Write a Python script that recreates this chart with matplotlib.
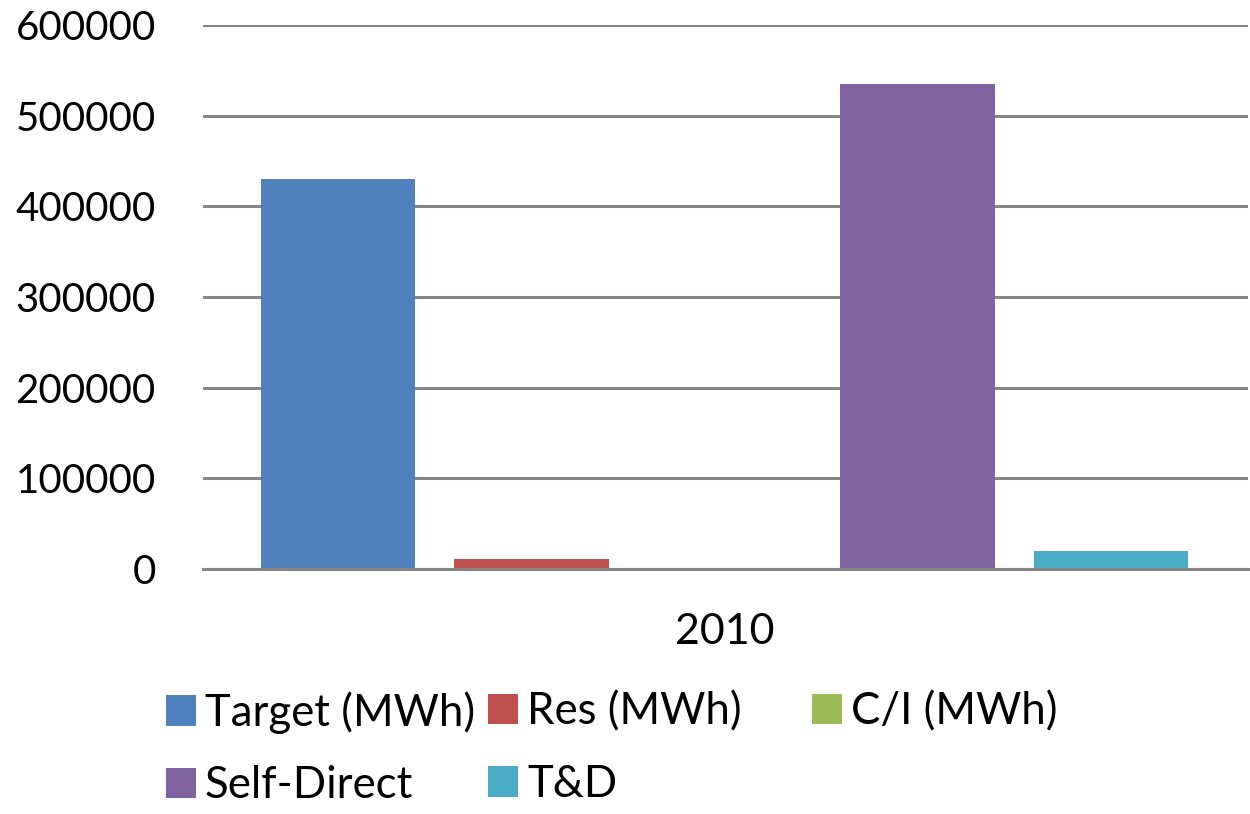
import matplotlib
matplotlib.use("Agg")
import matplotlib.pyplot as plt
from matplotlib.patches import Patch

plt.rcParams['font.family'] = ['Lato', 'DejaVu Sans']

# data
category = "2010"
series = ["Target (MWh)", "Res (MWh)", "C/I (MWh)", "Self-Direct", "T&D"]
values = [430000, 11000, 0, 535000, 19500]
colors = ["#4F81BD", "#C0504D", "#9BBB59", "#8064A2", "#4BACC6"]
yticks = [0, 100000, 200000, 300000, 400000, 500000, 600000]

fig = plt.figure(figsize=(12.5, 8.14), dpi=100)
ax = fig.add_axes([203 / 1250, 1 - 569 / 814, 1045 / 1250, (569 - 25) / 814])

width = 0.8
positions = list(range(len(series)))
for pos, val, col in zip(positions, values, colors):
    ax.bar(pos, val, width=width, color=col, zorder=3)

ax.set_xlim(-0.70, 4.71)
ax.set_ylim(0, 600000)
ax.set_yticks(yticks)
ax.set_yticklabels([str(v) for v in yticks])
ax.set_xticks([2])
ax.set_xticklabels([category])

ax.grid(axis='y', color='#868686', linewidth=2.2, zorder=0)
ax.set_axisbelow(True)
for side in ['left', 'right', 'top']:
    ax.spines[side].set_visible(False)
ax.spines['bottom'].set_color('#868686')
ax.spines['bottom'].set_linewidth(2.2)
ax.spines['bottom'].set_zorder(4)

ax.tick_params(axis='y', length=0, pad=34, labelsize=29, labelcolor='black')
ax.tick_params(axis='x', length=0, pad=32, labelsize=31, labelcolor='black')

# legend laid out in three columns, filled row by row
handles = {s: Patch(facecolor=c, edgecolor='none') for s, c in zip(series, colors)}
columns = [
    (["Target (MWh)", "Self-Direct"], 166),
    (["Res (MWh)", "T&D"], 488),
    (["C/I (MWh)"], 812),
]
fs = 31.5
for labels, xpix in columns:
    fig.legend([handles[l] for l in labels], labels,
               loc='upper left', bbox_to_anchor=(xpix / 1250, 1 - 691 / 814),
               frameon=False, fontsize=fs, borderpad=0, borderaxespad=0,
               handlelength=0.69, handleheight=0.69, handletextpad=0.2,
               labelspacing=0.72)

fig.savefig("out.png", dpi=100)
